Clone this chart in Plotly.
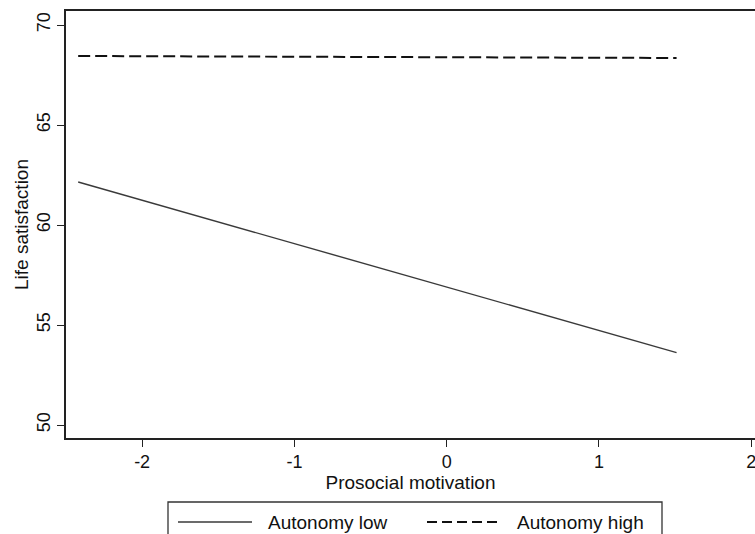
import plotly.graph_objects as go

# Data
prosocial = [-2.42, 1.51]
autonomy_low = [62.15, 53.62]
autonomy_high = [68.45, 68.35]
series_names = ["Autonomy low", "Autonomy high"]
x_ticks = [-2, -1, 0, 1, 2]
x_tick_text = ["-2", "-1", "0", "1", "2"]
y_ticks = [50, 55, 60, 65, 70]
y_tick_text = ["50", "55", "60", "65", "70"]

W, H = 755, 534
L, R, T, B = 66, 0, 11, 534 - 438
pw, ph = W - L - R, H - T - B

def px(xp):
    return (xp - L) / pw

def py(yp):
    return (H - B - yp) / ph

FONT = "Liberation Sans, Arial, Helvetica, sans-serif"

fig = go.Figure()
fig.add_trace(go.Scatter(x=prosocial, y=autonomy_low, mode="lines", name=series_names[0],
                         line=dict(color="#3a3a3a", width=1.4), showlegend=False))
fig.add_trace(go.Scatter(x=prosocial, y=autonomy_high, mode="lines", name=series_names[1],
                         line=dict(color="#111111", width=2, dash="12px,5px"), showlegend=False))

fig.update_layout(
    width=W, height=H,
    margin=dict(l=L, r=R, t=T, b=B, autoexpand=False),
    paper_bgcolor="white", plot_bgcolor="white",
    font=dict(family=FONT, size=18, color="#111111"),
    xaxis=dict(range=[-2.5, 2.025], tickvals=x_ticks, ticktext=x_tick_text, ticks="outside",
               ticklen=7, tickwidth=1.3, tickcolor="#222", showline=True, linecolor="#222",
               linewidth=1.6, mirror=True, showgrid=False, zeroline=False,
               tickfont=dict(size=18), ticklabeloverflow="allow",
               title=dict(text="Prosocial motivation", font=dict(size=19), standoff=2)),
    yaxis=dict(range=[49.35, 70.7], tickvals=y_ticks, ticktext=y_tick_text, ticks="outside",
               ticklen=7, tickwidth=1.3, tickcolor="#222", showline=True, linecolor="#222",
               linewidth=1.6, mirror=False, showgrid=False, zeroline=False, tickangle=-90,
               tickfont=dict(size=18),
               title=dict(text="Life satisfaction", font=dict(size=19), standoff=0)),
    showlegend=False,
)

# Manual legend box (extends below the visible area as in the reference)
fig.add_shape(type="rect", xref="paper", yref="paper",
              x0=px(168), x1=px(662), y0=py(560), y1=py(502),
              line=dict(color="#333", width=1.3), fillcolor="rgba(0,0,0,0)")
ly = py(522)
fig.add_shape(type="line", xref="paper", yref="paper", x0=px(178), x1=px(252), y0=ly, y1=ly,
              line=dict(color="#3a3a3a", width=1.4))
fig.add_shape(type="line", xref="paper", yref="paper", x0=px(427), x1=px(500), y0=ly, y1=ly,
              line=dict(color="#111111", width=2, dash="10px,5px"))
fig.add_annotation(xref="paper", yref="paper", x=px(266), y=ly, text=series_names[0],
                   showarrow=False, xanchor="left", yanchor="middle", font=dict(size=19))
fig.add_annotation(xref="paper", yref="paper", x=px(515), y=ly, text=series_names[1],
                   showarrow=False, xanchor="left", yanchor="middle", font=dict(size=19))

fig.write_html(
    "out.html",
    config={"displayModeBar": False},
    post_script="document.body.style.margin='0';document.body.style.overflow='hidden';",
)
